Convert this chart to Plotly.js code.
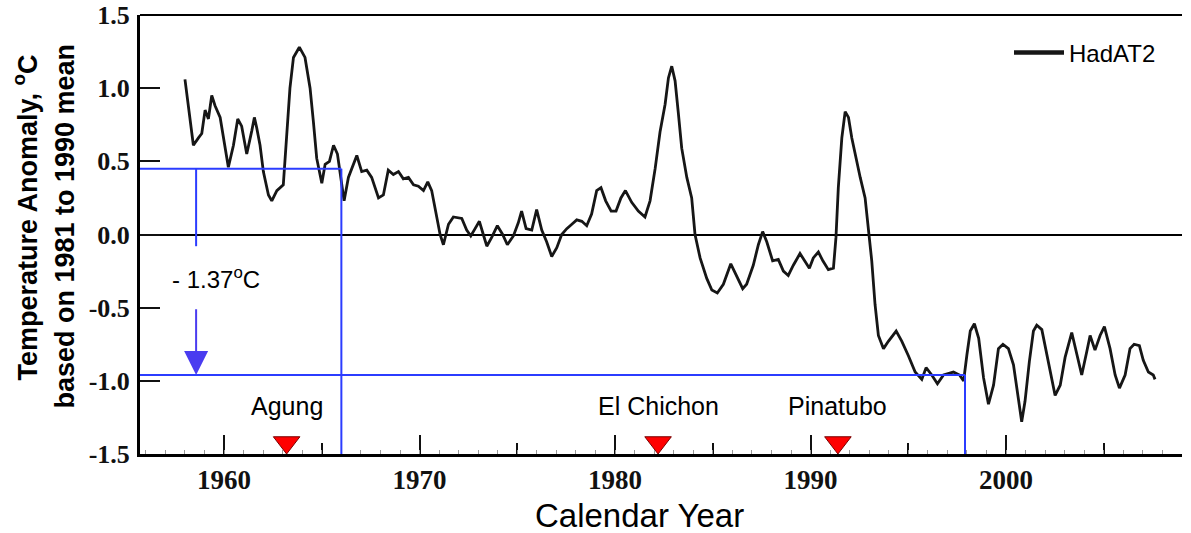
<!DOCTYPE html>
<html>
<head>
<meta charset="utf-8">
<script src="https://cdn.plot.ly/plotly-3.0.1.min.js"></script>
<style>
  html, body { margin: 0; padding: 0; background: #ffffff; }
  #chart { width: 1191px; height: 533px; }
</style>
</head>
<body>
<div id="chart"></div>
<script>
// ---- data ----
const years = [
  1958.00, 1958.43, 1958.69, 1958.86, 1959.03, 1959.20, 1959.37, 1959.54, 1959.80,
  1960.22, 1960.48, 1960.70, 1960.90, 1961.16, 1961.42, 1961.55, 1961.67, 1961.84,
  1962.01, 1962.27, 1962.44, 1962.70, 1963.03, 1963.20, 1963.37, 1963.55, 1963.85,
  1964.14, 1964.40, 1964.57, 1964.74, 1965.00, 1965.17, 1965.39, 1965.60, 1965.80,
  1965.93, 1966.14, 1966.36, 1966.61, 1966.79, 1967.04, 1967.30, 1967.55, 1967.90,
  1968.15, 1968.40, 1968.66, 1968.92, 1969.17, 1969.43, 1969.69, 1969.94, 1970.20,
  1970.42, 1970.62, 1970.85, 1971.05, 1971.22, 1971.48, 1971.73, 1972.16, 1972.41,
  1972.62, 1972.84, 1973.06, 1973.26, 1973.44, 1973.69, 1973.98, 1974.25, 1974.49,
  1974.80, 1975.05, 1975.22, 1975.45, 1975.74, 1975.99, 1976.25, 1976.50, 1976.76,
  1977.02, 1977.27, 1977.53, 1977.79, 1978.04, 1978.30, 1978.55, 1978.80, 1979.06,
  1979.28, 1979.52, 1979.80, 1980.05, 1980.30, 1980.53, 1980.85, 1981.19, 1981.53,
  1981.79, 1982.05, 1982.30, 1982.56, 1982.73, 1982.90, 1983.07, 1983.23, 1983.41,
  1983.67, 1983.92, 1984.09, 1984.35, 1984.69, 1984.95, 1985.23, 1985.54, 1985.92,
  1986.22, 1986.53, 1986.73, 1987.07, 1987.33, 1987.55, 1987.76, 1988.06, 1988.35,
  1988.61, 1988.86, 1989.12, 1989.46, 1989.72, 1989.94, 1990.14, 1990.40, 1990.63,
  1990.91, 1991.17, 1991.30, 1991.42, 1991.60, 1991.77, 1991.94, 1992.11, 1992.28,
  1992.54, 1992.79, 1992.96, 1993.13, 1993.30, 1993.47, 1993.73, 1993.98, 1994.38,
  1994.67, 1995.01, 1995.35, 1995.69, 1995.91, 1996.20, 1996.49, 1996.80, 1997.06,
  1997.31, 1997.62, 1997.83, 1998.00, 1998.17, 1998.38, 1998.60, 1998.85, 1999.10,
  1999.36, 1999.61, 1999.84, 2000.12, 2000.38, 2000.64, 2000.80, 2000.97, 2001.19,
  2001.40, 2001.57, 2001.83, 2002.17, 2002.51, 2002.77, 2003.02, 2003.36, 2003.62,
  2003.87, 2004.13, 2004.30, 2004.55, 2004.81, 2005.03, 2005.32, 2005.58, 2005.80,
  2006.09, 2006.34, 2006.55, 2006.82, 2007.02, 2007.28, 2007.53, 2007.62
];
const anomaly = [
  1.06, 0.61, 0.66, 0.69, 0.85, 0.79, 0.95, 0.88, 0.80,
  0.46, 0.61, 0.79, 0.74, 0.55, 0.71, 0.80, 0.73, 0.61,
  0.43, 0.27, 0.23, 0.30, 0.34, 0.66, 1.00, 1.21, 1.28,
  1.21, 1.00, 0.77, 0.52, 0.35, 0.48, 0.50, 0.61, 0.55,
  0.43, 0.23, 0.39, 0.48, 0.54, 0.43, 0.44, 0.39, 0.25,
  0.27, 0.44, 0.41, 0.43, 0.38, 0.39, 0.34, 0.33, 0.30,
  0.36, 0.30, 0.15, 0.00, -0.07, 0.07, 0.12, 0.11, 0.03,
  -0.01, 0.04, 0.09, 0.00, -0.08, -0.02, 0.06, 0.00, -0.07,
  -0.01, 0.08, 0.16, 0.04, 0.03, 0.17, 0.03, -0.05, -0.15,
  -0.09, 0.00, 0.04, 0.07, 0.10, 0.09, 0.06, 0.14, 0.30,
  0.32, 0.23, 0.16, 0.16, 0.25, 0.30, 0.22, 0.16, 0.12,
  0.23, 0.45, 0.70, 0.89, 1.07, 1.15, 1.05, 0.84, 0.59,
  0.39, 0.25, 0.00, -0.16, -0.30, -0.38, -0.40, -0.34, -0.20,
  -0.28, -0.37, -0.34, -0.21, -0.07, 0.02, -0.05, -0.18, -0.17,
  -0.25, -0.28, -0.21, -0.13, -0.18, -0.23, -0.16, -0.12, -0.18,
  -0.24, -0.23, -0.02, 0.32, 0.66, 0.84, 0.80, 0.66, 0.55,
  0.39, 0.25, 0.02, -0.18, -0.48, -0.69, -0.78, -0.73, -0.66,
  -0.73, -0.83, -0.94, -0.99, -0.91, -0.96, -1.02, -0.96, -0.95,
  -0.94, -0.96, -1.00, -0.82, -0.66, -0.61, -0.71, -0.98, -1.16,
  -1.03, -0.78, -0.75, -0.78, -0.89, -1.12, -1.28, -1.14, -0.87,
  -0.66, -0.62, -0.65, -0.87, -1.10, -1.03, -0.84, -0.67, -0.82,
  -0.96, -0.80, -0.69, -0.79, -0.69, -0.63, -0.78, -0.96, -1.05,
  -0.96, -0.78, -0.75, -0.76, -0.86, -0.94, -0.96, -0.99
];
const seriesName = 'HadAT2';

const volcanoNames = ['Agung', 'El Chichon', 'Pinatubo'];
const volcanoYears = [1963.2, 1982.2, 1991.4];

const refYears  = [1966.0, 1997.9];   // ends of the two reference levels
const refLevels = [0.45, -0.96];      // the two reference levels
const diffLabel = '- 1.37<sup>o</sup>C';
const arrowYear = 1958.57;

const xTickVals = [1960, 1970, 1980, 1990, 2000];
const xTickText = ['1960', '1970', '1980', '1990', '2000'];
const xMinorVals = [1955, 1965, 1975, 1985, 1995, 2005];
const yTickVals = [-1.5, -1.0, -0.5, 0.0, 0.5, 1.0, 1.5];
const yTickText = ['-1.5', '-1.0', '-0.5', '0.0', '0.5', '1.0', '1.5'];

// ---- layout constants ----
const W = 1191, H = 533;
const M = { l: 140, r: 9, t: 15, b: 79 };
const xRange = [1955.7, 2009.0];
const yRange = [-1.5, 1.5];
const plotH = H - M.t - M.b;
const pxPerUnit = plotH / (yRange[1] - yRange[0]);
const BLUE = '#2b3cff';
const LINE = '#161616';
const SANS = 'Liberation Sans, Arial, sans-serif';
const SERIF = 'Liberation Serif, Times New Roman, serif';
const markerSize = 23;
const markerLevel = yRange[0] + (markerSize / 2) / pxPerUnit;

const traces = [
  {
    x: years, y: anomaly, type: 'scatter', mode: 'lines', name: seriesName,
    line: { color: LINE, width: 2.8 }, showlegend: false, legendgroup: 'had',
    hoverinfo: 'x+y'
  },
  // legend entry (thicker sample, as in the reference)
  { x: [null], y: [null], type: 'scatter', mode: 'lines', name: seriesName,
    line: { color: LINE, width: 4.5 }, legendgroup: 'had', hoverinfo: 'skip' },
  {
    x: volcanoYears, y: volcanoYears.map(() => markerLevel),
    type: 'scatter', mode: 'markers', showlegend: false, cliponaxis: false,
    marker: { symbol: 'triangle-down', size: markerSize, color: '#ff0000',
              line: { color: '#7a0000', width: 1 } },
    text: volcanoNames, hoverinfo: 'text+x'
  },
  { x: [], y: [], xaxis: 'x2', yaxis: 'y', showlegend: false, type: 'scatter' }
];

const shapes = [
  // reference levels
  { type: 'line', xref: 'x', yref: 'y', x0: xRange[0], x1: refYears[0], y0: refLevels[0], y1: refLevels[0], line: { color: BLUE, width: 2 } },
  { type: 'line', xref: 'x', yref: 'y', x0: refYears[0], x1: refYears[0], y0: refLevels[0], y1: yRange[0], line: { color: BLUE, width: 2 } },
  { type: 'line', xref: 'x', yref: 'y', x0: xRange[0], x1: refYears[1], y0: refLevels[1], y1: refLevels[1], line: { color: BLUE, width: 2 } },
  { type: 'line', xref: 'x', yref: 'y', x0: refYears[1], x1: refYears[1], y0: refLevels[1], y1: yRange[0], line: { color: BLUE, width: 2 } },
  // upper part of the difference arrow
  { type: 'line', xref: 'x', yref: 'y', x0: arrowYear, x1: arrowYear, y0: refLevels[0], y1: -0.08, line: { color: BLUE, width: 2 } },
  // top frame line
  { type: 'line', xref: 'paper', yref: 'paper', x0: 0, x1: 1, y0: 1, y1: 1, line: { color: '#000', width: 2 } }
];

function px2paperX(px) { return (px - M.l) / (W - M.l - M.r); }
function px2paperY(py) { return (H - M.b - py) / plotH; }

const annotations = [
  // difference arrow (lower part with head)
  { x: arrowYear, y: refLevels[1], xref: 'x', yref: 'y', ax: arrowYear, ay: -0.50, axref: 'x', ayref: 'y',
    showarrow: true, arrowhead: 2, arrowsize: 2.4, arrowwidth: 2, arrowcolor: '#4a3cf0', text: '' },
  { x: 1959.6, y: -0.30, xref: 'x', yref: 'y', text: diffLabel, showarrow: false,
    font: { family: SANS, size: 24, color: '#000' }, xanchor: 'center', yanchor: 'middle' },
  // axis titles
  { xref: 'paper', yref: 'paper', x: px2paperX(639), y: px2paperY(515), text: 'Calendar Year', showarrow: false,
    font: { family: SANS, size: 33, color: '#000' }, xanchor: 'center', yanchor: 'middle' },
  { xref: 'paper', yref: 'paper', x: px2paperX(25.5), y: px2paperY(218), text: 'Temperature Anomaly, <sup>o</sup>C', showarrow: false,
    textangle: -90, font: { family: SANS, size: 27, color: '#000', weight: 'bold' }, xanchor: 'center', yanchor: 'middle' },
  { xref: 'paper', yref: 'paper', x: px2paperX(64.6), y: px2paperY(226), text: 'based on 1981 to 1990 mean', showarrow: false,
    textangle: -90, font: { family: SANS, size: 27, color: '#000', weight: 'bold' }, xanchor: 'center', yanchor: 'middle' }
];
volcanoNames.forEach((n, i) => {
  annotations.push({
    x: volcanoYears[i], y: -1.17, xref: 'x', yref: 'y', text: n, showarrow: false,
    font: { family: SANS, size: 25, color: '#000' }, xanchor: 'center', yanchor: 'middle'
  });
});

const layout = {
  width: W, height: H,
  margin: M,
  paper_bgcolor: '#ffffff', plot_bgcolor: '#ffffff',
  showlegend: true,
  legend: {
    x: px2paperX(1009), y: px2paperY(53), xanchor: 'left', yanchor: 'middle',
    font: { family: SANS, size: 24, color: '#000' }, bgcolor: 'rgba(0,0,0,0)', itemwidth: 50
  },
  xaxis: {
    range: xRange, tickmode: 'array', tickvals: xTickVals, ticktext: xTickText,
    ticks: 'inside', ticklen: 19, tickwidth: 2, tickcolor: '#111',
    showline: true, linewidth: 3, linecolor: '#000',
    showgrid: false, zeroline: false,
    tickfont: { family: SERIF, size: 27, color: '#111', weight: 'bold' },
    ticklabelstandoff: 0,
    minor: { tickmode: 'array', tickvals: xMinorVals, ticks: 'inside', ticklen: 11, tickwidth: 2, tickcolor: '#111', showgrid: false }
  },
  xaxis2: {
    overlaying: 'x', matches: 'x', anchor: 'y', side: 'bottom',
    range: xRange, dtick: 1, tick0: 1955, ticks: 'inside', ticklen: 4, tickwidth: 1, tickcolor: '#999',
    showticklabels: false, showline: false, showgrid: false, zeroline: false
  },
  yaxis: {
    range: yRange, tickmode: 'array', tickvals: yTickVals, ticktext: yTickText,
    ticks: 'inside', ticklen: 20, tickwidth: 2, tickcolor: '#111',
    showline: true, linewidth: 3, linecolor: '#000',
    showgrid: false, zeroline: true, zerolinecolor: '#000', zerolinewidth: 2,
    tickfont: { family: SERIF, size: 26, color: '#111', weight: 'bold' },
    ticklabelstandoff: 2
  },
  shapes: shapes,
  annotations: annotations
};

Plotly.newPlot('chart', traces, layout, { displayModeBar: false, staticPlot: true });
</script>
</body>
</html>
